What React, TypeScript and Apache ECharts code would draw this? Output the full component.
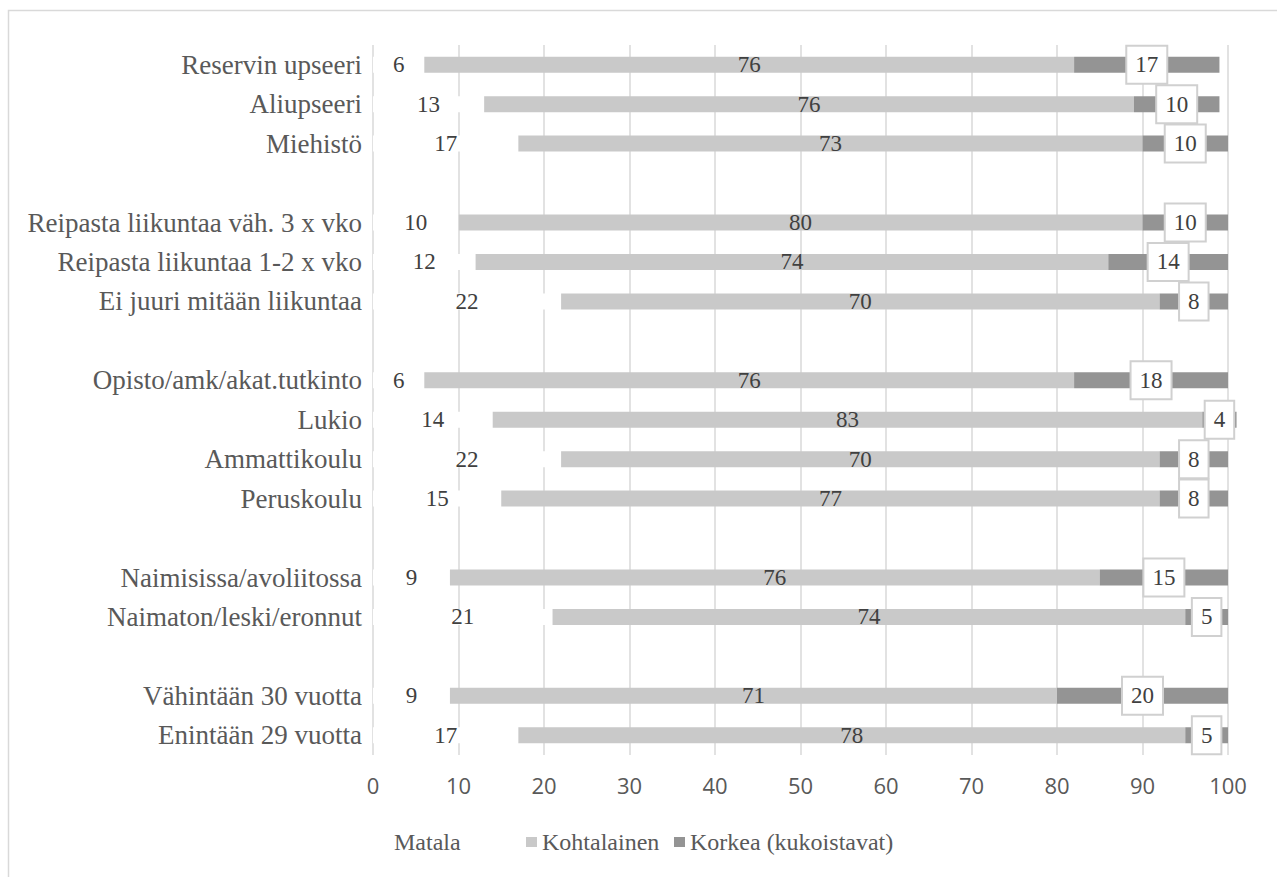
import React, { useEffect, useRef } from "react";
import * as echarts from "echarts";

// Row labels, top to bottom; blank entries separate the groups.
const categories = [
  "Reservin upseeri",
  "Aliupseeri",
  "Miehistö",
  " ",
  "Reipasta liikuntaa väh. 3 x vko",
  "Reipasta liikuntaa 1-2 x vko",
  "Ei juuri mitään liikuntaa",
  "  ",
  "Opisto/amk/akat.tutkinto",
  "Lukio",
  "Ammattikoulu",
  "Peruskoulu",
  "   ",
  "Naimisissa/avoliitossa",
  "Naimaton/leski/eronnut",
  "    ",
  "Vähintään 30 vuotta",
  "Enintään 29 vuotta",
];

const seriesNames = ["Matala", "Kohtalainen", "Korkea (kukoistavat)"];

const matala = [6, 13, 17, null, 10, 12, 22, null, 6, 14, 22, 15, null, 9, 21, null, 9, 17];
const kohtalainen = [76, 76, 73, null, 80, 74, 70, null, 76, 83, 70, 77, null, 76, 74, null, 71, 78];
const korkea = [17, 10, 10, null, 10, 14, 8, null, 18, 4, 8, 8, null, 15, 5, null, 20, 5];

const xTicks = { min: 0, max: 100, interval: 10 };

const SERIF = "'Liberation Serif', 'Times New Roman', serif";
const SANS = "'Open Sans', 'Noto Sans', sans-serif";

export default function App() {
  const ref = useRef<HTMLDivElement>(null);

  useEffect(() => {
    if (!ref.current) return;
    const chart = echarts.init(ref.current, undefined, { renderer: "svg" });

    const valueLabel = {
      show: true,
      position: "inside",
      fontFamily: SERIF,
      fontSize: 23,
      color: "#404040",
    };

    const legendText = { fontFamily: SERIF, fontSize: 24, color: "#595959" };
    const legendBase = {
      top: 825,
      itemWidth: 11,
      itemHeight: 10,
      icon: "rect",
      selectedMode: false,
      textStyle: legendText,
    };

    chart.setOption({
      animation: false,
      backgroundColor: "#ffffff",
      grid: { left: 373, right: 49, top: 45, bottom: 122, containLabel: false },
      legend: [
        { ...legendBase, left: 373, data: [seriesNames[0]] },
        { ...legendBase, left: 521, data: [seriesNames[1]] },
        { ...legendBase, left: 669, data: [seriesNames[2]] },
      ],
      xAxis: {
        type: "value",
        min: xTicks.min,
        max: xTicks.max,
        interval: xTicks.interval,
        axisLine: { show: false },
        axisTick: { show: false },
        axisLabel: { fontFamily: SANS, fontSize: 22, color: "#595959", margin: 19 },
        splitLine: { show: true, lineStyle: { color: "#d9d9d9", width: 1.5 } },
      },
      yAxis: {
        type: "category",
        inverse: true,
        data: categories,
        axisLine: { show: false },
        axisTick: { show: false },
        axisLabel: { fontFamily: SERIF, fontSize: 27, color: "#595959", margin: 11 },
      },
      series: [
        {
          name: seriesNames[0],
          type: "bar",
          stack: "total",
          barWidth: 16,
          data: matala,
          itemStyle: { color: "#ffffff" },
          label: valueLabel,
        },
        {
          name: seriesNames[1],
          type: "bar",
          stack: "total",
          barWidth: 16,
          data: kohtalainen,
          itemStyle: { color: "#c9c9c9" },
          label: valueLabel,
        },
        {
          name: seriesNames[2],
          type: "bar",
          stack: "total",
          barWidth: 16,
          clip: false,
          data: korkea,
          itemStyle: { color: "#949494" },
          label: {
            ...valueLabel,
            backgroundColor: "#ffffff",
            borderColor: "#d0d0d0",
            borderWidth: 2,
            padding: [7, 8, 6, 8],
          },
        },
      ],
      graphic: [
        {
          type: "polyline",
          silent: true,
          shape: { points: [[1277, 10.5], [8.5, 10.5], [8.5, 877]] },
          style: { stroke: "#d9d9d9", lineWidth: 1.5, fill: null },
        },
      ],
    });

    return () => chart.dispose();
  }, []);

  return (
    <div
      ref={ref}
      style={{ position: "absolute", left: 0, top: 0, width: 1277, height: 877 }}
    />
  );
}
